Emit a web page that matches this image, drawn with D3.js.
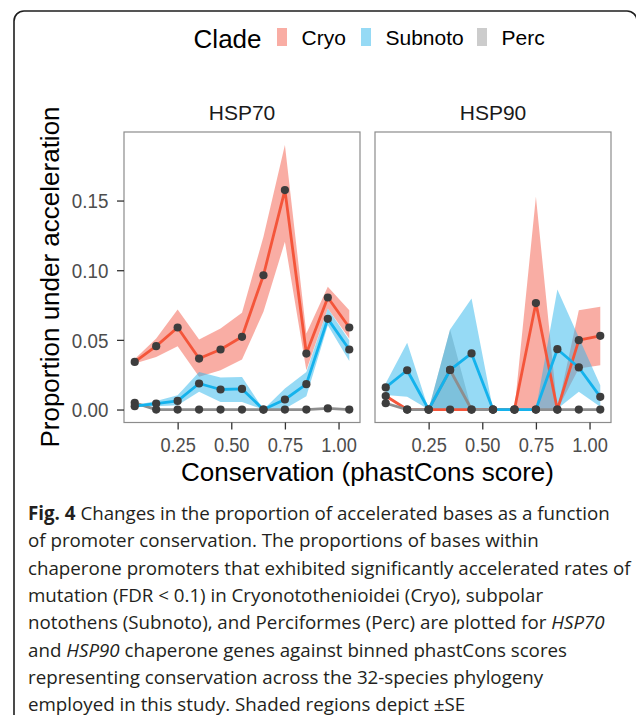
<!DOCTYPE html>
<html><head><meta charset="utf-8">
<script src="https://cdn.jsdelivr.net/npm/d3@7/dist/d3.min.js"></script>
<style>html,body{margin:0;padding:0;background:#fff;}svg{display:block;}</style>
</head><body>
<svg id="c" width="636" height="715"></svg>
<script>
// ---------- data ----------
const bins = [0.05,0.15,0.25,0.35,0.45,0.55,0.65,0.75,0.85,0.95,1.05];
const panels = ["HSP70","HSP90"];
const clades = ["Cryo","Subnoto","Perc"];
const drawOrder = ["Cryo","Perc","Subnoto"];
const xTicks = [0.25,0.5,0.75,1.0];
const xTickLabels = ["0.25","0.50","0.75","1.00"];
const yTicks = [0,0.05,0.10,0.15];
const yTickLabels = ["0.00","0.05","0.10","0.15"];

// HSP70
const cryo70   = [0.0342,0.0455,0.0589,0.0366,0.0431,0.0522,0.0964,0.1575,0.0402,0.0804,0.0589];
const cryo70Lo = [0.0330,0.0378,0.0455,0.0235,0.0282,0.0359,0.0701,0.1204,0.0282,0.0725,0.0510];
const cryo70Hi = [0.0362,0.0510,0.0718,0.0503,0.0581,0.0694,0.1240,0.1898,0.0546,0.0881,0.0713];
const sub70    = [0.0024,0.0043,0.0062,0.0187,0.0144,0.0148,0,0.0072,0.0182,0.0651,0.0431];
const sub70Lo  = [0.0018,0.0024,0.0031,0.0127,0.0055,0.0055,0,0.0005,0.0096,0.0605,0.0349];
const sub70Hi  = [0.0030,0.0062,0.0103,0.0270,0.0230,0.0234,0,0.0151,0.0270,0.0725,0.0498];
const perc70   = [0.0048,0,0,0,0,0,0,0,0,0.0008,0];
const perc70Lo = [0.0044,0,0,0,0,0,0,0,0,0.0006,0];
const perc70Hi = [0.0052,0,0,0,0,0,0,0,0,0.0010,0];
// HSP90
const cryo90   = [0.0097,0,0,0,0,0,0,0.0764,0,0.0498,0.0529];
const cryo90Lo = [0.0085,0,0,0,0,0,0,0.0002,0,0.0294,0.0318];
const cryo90Hi = [0.0109,0,0,0,0,0,0,0.1527,0,0.0713,0.0737];
const sub90    = [0.0159,0.0282,0,0.0284,0.0403,0,0,0,0.0433,0.0302,0.0091];
const sub90Lo  = [0.0104,0.0091,0,-0.0006,0.0009,0,0,0,0.0005,0.0127,0.0020];
const sub90Hi  = [0.0189,0.0479,0,0.0574,0.0797,0,0,0,0.0861,0.0517,0.0175];
const perc90   = [0.0045,0,0,0.0284,0,0,0,0,0,0,0];
const perc90Lo = [0.0041,0,0,-0.0006,0,0,0,0,0,0,0];
const perc90Hi = [0.0049,0,0,0.0574,0,0,0,0,0,0,0];

const captionLines = [
  [["b","Fig. 4"],["n"," Changes in the proportion of accelerated bases as a function"]],
  [["n","of promoter conservation. The proportions of bases within"]],
  [["n","chaperone promoters that exhibited significantly accelerated rates of"]],
  [["n","mutation (FDR < 0.1) in Cryonotothenioidei (Cryo), subpolar"]],
  [["n","notothens (Subnoto), and Perciformes (Perc) are plotted for "],["i","HSP70"]],
  [["n","and "],["i","HSP90"],["n"," chaperone genes against binned phastCons scores"]],
  [["n","representing conservation across the 32-species phylogeny"]],
  [["n","employed in this study. Shaded regions depict ±SE"]]
];

// ---------- build series table ----------
const series = {
  HSP70: {Cryo:[cryo70,cryo70Lo,cryo70Hi], Subnoto:[sub70,sub70Lo,sub70Hi], Perc:[perc70,perc70Lo,perc70Hi]},
  HSP90: {Cryo:[cryo90,cryo90Lo,cryo90Hi], Subnoto:[sub90,sub90Lo,sub90Hi], Perc:[perc90,perc90Lo,perc90Hi]}
};

// ---------- styles ----------
const lineCol = {Cryo:"#F4553A", Subnoto:"#14B2EC", Perc:"#8E8E8E"};
const fillCol = {Cryo:"#F35B4A", Subnoto:"#2DB5EC", Perc:"#999999"};
const fillOp = 0.5;
const FONT = "'Liberation Sans', Arial, Helvetica, sans-serif";

const svg = d3.select("#c");
svg.append("rect").attr("width",636).attr("height",715).attr("fill","#fff");
// outer rounded frame
svg.append("rect").attr("x",14).attr("y",11).attr("width",623).attr("height",740)
  .attr("rx",10).attr("ry",10).attr("fill","none").attr("stroke","#1e1e1e").attr("stroke-width",1.6);

const y = d3.scaleLinear().domain([-0.0093,0.1992]).range([422.5,132]);
const panelX = {HSP70:[124,360], HSP90:[375,611]};

panels.forEach((p,pi) => {
  const x = d3.scaleLinear().domain([0,1.1]).range(panelX[p]);
  const g = svg.append("g");
  // strip title
  g.append("text").attr("x",(panelX[p][0]+panelX[p][1])/2).attr("y",120)
    .attr("text-anchor","middle").attr("font-family",FONT).attr("font-size",21)
    .attr("fill","#1a1a1a").text(p);
  // ribbons
  drawOrder.forEach(c => {
    const [v,lo,hi] = series[p][c];
    const pts = bins.map((b,i)=>({x:b,lo:lo[i],hi:hi[i]}));
    g.append("path").datum(pts)
      .attr("d", d3.area().x(d=>x(d.x)).y0(d=>y(d.lo)).y1(d=>y(d.hi)))
      .attr("fill",fillCol[c]).attr("fill-opacity",fillOp);
  });
  // lines
  drawOrder.forEach(c => {
    const v = series[p][c][0];
    const pts = bins.map((b,i)=>({x:b,v:v[i]}));
    g.append("path").datum(pts)
      .attr("d", d3.line().x(d=>x(d.x)).y(d=>y(d.v)))
      .attr("fill","none").attr("stroke",lineCol[c]).attr("stroke-width",2.8)
      .attr("stroke-linejoin","round");
  });
  // points
  drawOrder.forEach(c => {
    const v = series[p][c][0];
    g.selectAll(null).data(bins.map((b,i)=>({x:b,v:v[i]}))).join("circle")
      .attr("cx",d=>x(d.x)).attr("cy",d=>y(d.v)).attr("r",4.1).attr("fill","#3d3d3d");
  });
  // panel border
  g.append("rect").attr("x",panelX[p][0]).attr("y",132)
    .attr("width",panelX[p][1]-panelX[p][0]).attr("height",290.5)
    .attr("fill","none").attr("stroke","#8c8c8c").attr("stroke-width",1.2);
  // x axis
  const ax = g.append("g").attr("transform","translate(0,422.5)")
    .call(d3.axisBottom(x).tickValues(xTicks).tickFormat((d,i)=>xTickLabels[i]).tickSize(7).tickPadding(8));
  ax.select(".domain").remove();
  ax.selectAll(".tick line").attr("stroke","#333").attr("stroke-width",1.3);
  ax.selectAll(".tick text").attr("y",29.2).attr("dy",null)
    .attr("font-family",FONT).attr("font-size",20.5).attr("fill","#4d4d4d")
    .attr("textLength",35.5).attr("lengthAdjust","spacingAndGlyphs");
  if (pi===0) {
    const ay = g.append("g").attr("transform","translate(124,0)")
      .call(d3.axisLeft(y).tickValues(yTicks).tickFormat((d,i)=>yTickLabels[i]).tickSize(7).tickPadding(8));
    ay.select(".domain").remove();
    ay.selectAll(".tick line").attr("stroke","#333").attr("stroke-width",1.3);
    ay.selectAll(".tick text").attr("x",-15.7).attr("dy","0.36em")
      .attr("font-family",FONT).attr("font-size",20.5).attr("fill","#4d4d4d")
      .attr("textLength",36.5).attr("lengthAdjust","spacingAndGlyphs");
  }
});

// axis titles
svg.append("text").attr("x",367.5).attr("y",481).attr("text-anchor","middle")
  .attr("font-family",FONT).attr("font-size",26).attr("fill","#000")
  .text("Conservation (phastCons score)");
svg.append("text").attr("transform","translate(58.5,277) rotate(-90)").attr("text-anchor","middle")
  .attr("font-family",FONT).attr("font-size",26).attr("fill","#000")
  .text("Proportion under acceleration");

// legend
const leg = svg.append("g").attr("font-family",FONT);
leg.append("text").attr("x",193.6).attr("y",47.5).attr("font-size",26).attr("fill","#000").text("Clade");
const keyX = {Cryo:277, Subnoto:361, Perc:477};
clades.forEach(c => {
  leg.append("rect").attr("x",keyX[c]).attr("y",28).attr("width",10).attr("height",18)
    .attr("fill",fillCol[c]).attr("fill-opacity",fillOp);
  leg.append("text").attr("x",keyX[c]+24.5).attr("y",44.5).attr("font-size",21).attr("fill","#000").text(c);
});

// caption
const cap = svg.append("g").attr("font-family","'Open Sans', 'Noto Sans', sans-serif").attr("fill","#231f20");
const baseFS = 20;
cap.attr("font-size",baseFS);
const lineNodes = captionLines.map((segs,li) => {
  const t = cap.append("text").attr("x",28).attr("y",520 + li*27.3);
  segs.forEach(([k,s]) => {
    const ts = t.append("tspan").text(s);
    if (k==="b") ts.attr("font-weight","bold");
    if (k==="i") ts.attr("font-style","italic");
  });
  return t;
});
const w1 = lineNodes[0].node().getComputedTextLength();
if (w1 > 0) cap.attr("font-size", baseFS * 582 / w1);
</script>
</body></html>
